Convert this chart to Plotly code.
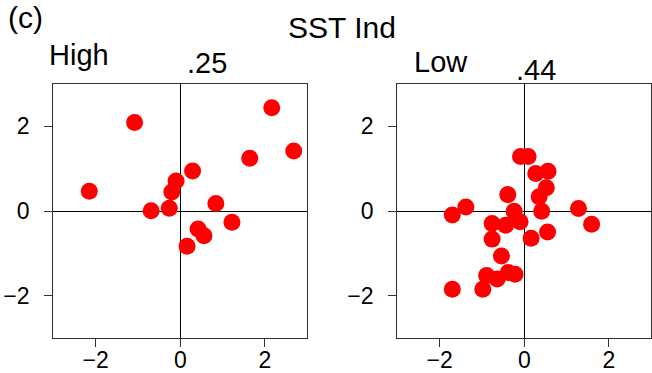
import plotly.graph_objects as go
from plotly.subplots import make_subplots

# Standardised anomalies, high-index and low-index composites
high_x = [-2.15, -1.08, 2.16, 2.68, 1.64, 0.29, -0.10, -0.20, -0.69, -0.26, 0.84, 1.22, 0.42, 0.56, 0.16]
high_y = [0.47, 2.09, 2.44, 1.42, 1.25, 0.95, 0.71, 0.45, 0.01, 0.07, 0.18, -0.26, -0.42, -0.58, -0.83]

low_x = [-1.70, -1.38, -0.09, 0.09, 0.27, 0.56, 0.52, 0.35, -0.39, -0.24, 0.41, 1.28, 1.59,
         -0.76, -0.44, -0.10, -0.76, 0.16, 0.55, -0.54, -0.89, -0.64, -0.38, -0.22, -0.98, -1.70]
low_y = [-0.09, 0.10, 1.29, 1.29, 0.89, 0.94, 0.55, 0.34, 0.39, 0.00, 0.00, 0.06, -0.31,
         -0.29, -0.33, -0.25, -0.66, -0.64, -0.49, -1.06, -1.52, -1.60, -1.45, -1.49, -1.84, -1.84]

panel_names = ["High", "Low"]
panel_corr = [".25", ".44"]
tick_vals = [-2, 0, 2]
axis_range = [-3, 3]

W, H = 652, 373
FONT = "Liberation Sans, Arial, sans-serif"

fig = make_subplots(rows=1, cols=2)

for col, (xs, ys) in enumerate([(high_x, high_y), (low_x, low_y)], start=1):
    fig.add_trace(
        go.Scatter(
            x=xs, y=ys, mode="markers",
            marker=dict(color="#ff0000", size=17, line=dict(width=0)),
            showlegend=False,
        ),
        row=1, col=col,
    )

axis_common = dict(
    range=axis_range, tickvals=tick_vals, showgrid=False,
    zeroline=True, zerolinecolor="black", zerolinewidth=1.2,
    showline=True, linecolor="#333333", linewidth=1.2, mirror=True,
    ticks="outside", ticklen=8, tickwidth=1.2, tickcolor="#333333",
    tickfont=dict(family=FONT, size=23, color="black"),
    automargin=False, fixedrange=True,
)

# panel positions in paper coordinates
x_domains = [[53.3 / W, 307.3 / W], [397.3 / W, 651.3 / W]]
y_domain = [1 - 338.3 / H, 1 - 84 / H]

fig.update_xaxes(**axis_common, ticklabelstandoff=-7)
fig.update_yaxes(**axis_common, ticklabelstandoff=10)
fig.update_xaxes(domain=x_domains[0], row=1, col=1)
fig.update_xaxes(domain=x_domains[1], row=1, col=2)
fig.update_yaxes(domain=y_domain)

def px_x(v):
    return v / W

def px_y(v):
    return 1 - v / H

annotations = [
    dict(text="(c)", x=px_x(6), y=px_y(17), xanchor="left", yanchor="middle", size=30),
    dict(text="SST Ind", x=px_x(341.5), y=px_y(27.5), xanchor="center", yanchor="middle", size=30),
    dict(text=panel_names[0], x=px_x(47), y=px_y(55.5), xanchor="left", yanchor="middle", size=29),
    dict(text=panel_corr[0], x=px_x(207), y=px_y(63), xanchor="center", yanchor="middle", size=29),
    dict(text=panel_names[1], x=px_x(412), y=px_y(62), xanchor="left", yanchor="middle", size=29),
    dict(text=panel_corr[1], x=px_x(536), y=px_y(69.5), xanchor="center", yanchor="middle", size=29),
]
for a in annotations:
    fig.add_annotation(
        text=a["text"], x=a["x"], y=a["y"], xref="paper", yref="paper",
        xanchor=a["xanchor"], yanchor=a["yanchor"], showarrow=False,
        font=dict(family=FONT, size=a["size"], color="black"),
    )

fig.update_layout(
    width=W, height=H,
    margin=dict(l=0, r=0, t=0, b=0),
    paper_bgcolor="white", plot_bgcolor="white",
)

fig.write_html("out.html")
